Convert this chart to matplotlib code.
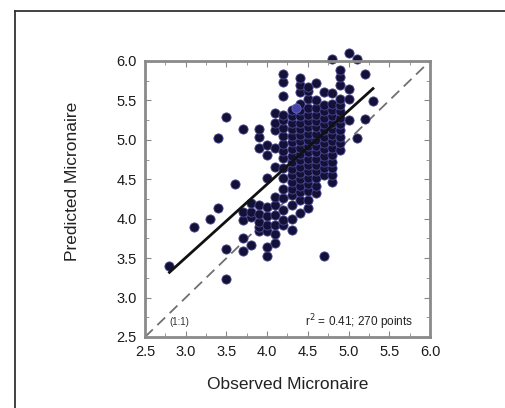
import matplotlib
matplotlib.use('Agg')
import matplotlib.pyplot as plt
from matplotlib.lines import Line2D
from matplotlib.ticker import MultipleLocator

plt.rcParams['font.family'] = ['Liberation Sans', 'DejaVu Sans']

# observed micronaire columns -> predicted values
columns = {
    2.8: [3.4],
    3.1: [3.9],
    3.3: [4.0],
    3.4: [4.13, 5.02],
    3.5: [3.24, 3.61, 5.29],
    3.6: [4.44],
    3.7: [3.59, 3.76, 3.98, 4.09, 5.14],
    3.8: [3.67, 4.02, 4.09, 4.2],
    3.9: [3.84, 3.9, 3.96, 4.06, 4.18, 4.9, 5.03, 5.14],
    4.0: [3.53, 3.64, 3.84, 3.92, 4.03, 4.15, 4.51, 4.81, 4.93],
    4.1: [3.69, 3.81, 3.92, 4.05, 4.18, 4.28, 4.66, 4.9, 5.12, 5.22, 5.34],
    4.2: [3.92, 3.98, 4.11, 4.26, 4.38, 4.51, 4.64, 4.77, 4.86, 4.95, 5.05,
          5.15, 5.25, 5.32, 5.55, 5.74, 5.84],
    4.3: [3.86, 4.0, 4.17, 4.3, 4.38, 4.47, 4.55, 4.63, 4.72, 4.8, 4.88,
          4.97, 5.05, 5.14, 5.22, 5.3, 5.38],
    4.4: [4.07, 4.24, 4.34, 4.42, 4.5, 4.58, 4.66, 4.74, 4.82, 4.9, 4.98,
          5.06, 5.14, 5.22, 5.3, 5.38, 5.46, 5.61, 5.69, 5.78],
    4.5: [4.13, 4.24, 4.35, 4.44, 4.52, 4.6, 4.68, 4.76, 4.84, 4.92, 5.0,
          5.08, 5.16, 5.24, 5.32, 5.4, 5.52, 5.62, 5.67],
    4.6: [4.32, 4.42, 4.51, 4.6, 4.68, 4.76, 4.84, 4.92, 5.0, 5.08, 5.16,
          5.24, 5.32, 5.4, 5.5, 5.72],
    4.7: [3.53, 4.55, 4.64, 4.72, 4.8, 4.88, 4.96, 5.04, 5.12, 5.2, 5.28,
          5.36, 5.44, 5.61],
    4.8: [4.47, 4.55, 4.64, 4.72, 4.81, 4.9, 4.98, 5.06, 5.14, 5.22, 5.3,
          5.38, 5.46, 5.59, 6.03],
    4.9: [4.87, 4.96, 5.04, 5.12, 5.2, 5.28, 5.36, 5.44, 5.52, 5.69, 5.8, 5.88],
    5.0: [5.25, 5.52, 5.65, 6.1],
    5.1: [5.02, 6.03],
    5.2: [5.26, 5.84],
    5.3: [5.49],
}
blue_x = [4.35]
blue_y = [5.40]

fit_x = [2.8, 5.3]
fit_y = [3.32, 5.65]
one_to_one = [2.5, 6.0]
ticks = [2.5, 3.0, 3.5, 4.0, 4.5, 5.0, 5.5, 6.0]

observed = []
predicted = []
for x, ys in columns.items():
    for y in ys:
        observed.append(x)
        predicted.append(y)

fig = plt.figure(figsize=(5.05, 4.08), dpi=100)
ax = fig.add_axes([145/505, 71/408, 285/505, 276/408])

ax.plot(one_to_one, one_to_one, color='#707070', lw=1.3, dashes=(6, 3.5), zorder=1)
ax.scatter(observed, predicted, s=44, color='#131138', edgecolors='#4a4890',
           linewidths=0.6, zorder=2, clip_on=False)
ax.scatter(blue_x, blue_y, s=44, color='#4644a8', edgecolors='#6a68c0',
           linewidths=0.6, zorder=3)
ax.plot(fit_x, fit_y, color='#111111', lw=2, zorder=4)

ax.set_xlim(2.5, 6.0)
ax.set_ylim(2.5, 6.0)
ax.set_xticks(ticks)
ax.set_yticks(ticks)
ax.set_xticklabels(['%.1f' % t for t in ticks])
ax.set_yticklabels(['%.1f' % t for t in ticks])
ax.xaxis.set_minor_locator(MultipleLocator(0.25))
ax.yaxis.set_minor_locator(MultipleLocator(0.25))
ax.tick_params(which='both', direction='in', top=True, right=True,
               color='#888888', labelsize=10.5, labelcolor='#1a1a1a', pad=6)
ax.tick_params(which='major', length=4)
ax.tick_params(which='minor', length=3)
for s in ax.spines.values():
    s.set_color('#8a8a8a')
    s.set_linewidth(2)

ax.set_xlabel('Observed Micronaire', fontsize=12.5, color='#222222', labelpad=13)
ax.set_ylabel('Predicted Micronaire', fontsize=12.5, color='#222222')
ax.yaxis.set_label_coords(-0.228, 0.565)

ax.text(2.8, 2.69, '(1:1)', fontsize=7, color='#333333', va='center')
ax.text(5.79, 2.69, r'r$^2$ = 0.41; 270 points', fontsize=8.5, color='#222222',
        va='center', ha='right')

# outer frame: only the top and left edges fall inside the image
top = 1 - 11/408
left = 15/505
fig.add_artist(Line2D([left, 1.0], [top, top], transform=fig.transFigure,
                      color='#333333', lw=1.3))
fig.add_artist(Line2D([left, left], [0.0, top], transform=fig.transFigure,
                      color='#333333', lw=1.3))

fig.savefig('out.png', dpi=100)
